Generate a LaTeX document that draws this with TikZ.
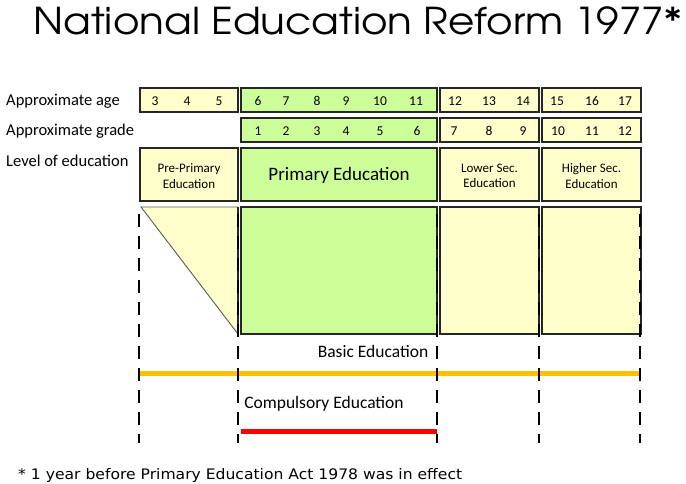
\documentclass[tikz,border=0pt]{standalone}
\usepackage{fontspec}
\setmainfont{Carlito}[Numbers=Lining]
\newfontfamily\titlefont{TeX Gyre Adventor}
\newfontfamily\notefont{DejaVu Sans}
\definecolor{paleyellow}{HTML}{FFFFCC}
\definecolor{palegreen}{HTML}{CCFF99}
\definecolor{boxline}{HTML}{262626}
\definecolor{basicbar}{HTML}{FFC000}
\definecolor{compbar}{HTML}{FF0000}
\begin{document}
\begin{tikzpicture}[x=1pt,y=-1pt,
  cell/.style={draw=boxline,line width=1.4pt,rectangle,inner sep=0pt,anchor=center},
  yel/.style={cell,fill=paleyellow},
  grn/.style={cell,fill=palegreen},
  num/.style={font=\fontsize{13.5}{13.5}\selectfont,inner sep=0pt,anchor=base},
  rowlabel/.style={font=\fontsize{16.5}{16.5}\selectfont,inner sep=0pt,anchor=base west},
  smalllevel/.style={font=\fontsize{13}{15.5}\selectfont,align=center,inner sep=0pt,anchor=center},
  spanlabel/.style={inner sep=0pt,anchor=center,font=\fontsize{17.5}{17.5}\selectfont},
  divider/.style={black,line width=2.4pt,dash pattern=on 13pt off 9pt},
  bar/.style={line width=5pt}]
\useasboundingbox (0,0) rectangle (686,484);

% title
\node[anchor=base west,inner sep=0pt,font=\titlefont\fontsize{37}{37}\selectfont] (title) at (33,35) {\scalebox{1.095}[1]{National Education Reform 1977*}};

% row captions
\node[rowlabel] (lage) at (6,106) {Approximate age};
\node[rowlabel] (lgrade) at (6,136) {Approximate grade};
\node[rowlabel] (llevel) at (6,167) {Level of education};

% age row
\node[yel,minimum width=98pt,minimum height=24pt] (agepre) at (189,100) {};
\node[grn,minimum width=196pt,minimum height=24pt] (agepri) at (339,100) {};
\node[yel,minimum width=99pt,minimum height=24pt] (agelow) at (489.5,100) {};
\node[yel,minimum width=99pt,minimum height=24pt] (agehi) at (591.5,100) {};

% grade row
\node[grn,minimum width=196pt,minimum height=24pt] (grpri) at (339,130) {};
\node[yel,minimum width=99pt,minimum height=24pt] (grlow) at (489.5,130) {};
\node[yel,minimum width=99pt,minimum height=24pt] (grhi) at (591.5,130) {};

% ages
\node[num] (a3) at (155,105.5) {3};
\node[num] (a4) at (187,105.5) {4};
\node[num] (a5) at (219,105.5) {5};
\node[num] (a6) at (258,105.5) {6};
\node[num] (a7) at (286,105.5) {7};
\node[num] (a8) at (317,105.5) {8};
\node[num] (a9) at (346,105.5) {9};
\node[num] (a10) at (380,105.5) {10};
\node[num] (a11) at (416,105.5) {11};
\node[num] (a12) at (455,105.5) {12};
\node[num] (a13) at (489,105.5) {13};
\node[num] (a14) at (523,105.5) {14};
\node[num] (a15) at (557,105.5) {15};
\node[num] (a16) at (592,105.5) {16};
\node[num] (a17) at (625,105.5) {17};

% grades
\node[num] (g1) at (258,135.5) {1};
\node[num] (g2) at (286,135.5) {2};
\node[num] (g3) at (317,135.5) {3};
\node[num] (g4) at (346,135.5) {4};
\node[num] (g5) at (380,135.5) {5};
\node[num] (g6) at (417,135.5) {6};
\node[num] (g7) at (454,135.5) {7};
\node[num] (g8) at (489,135.5) {8};
\node[num] (g9) at (523,135.5) {9};
\node[num] (g10) at (558,135.5) {10};
\node[num] (g11) at (592,135.5) {11};
\node[num] (g12) at (625,135.5) {12};

% level row
\node[yel,minimum width=98pt,minimum height=53pt] (lvpre) at (189,174.5) {};
\node[grn,minimum width=196pt,minimum height=53pt] (lvpri) at (339,174.5) {};
\node[yel,minimum width=99pt,minimum height=53pt] (lvlow) at (489.5,174.5) {};
\node[yel,minimum width=99pt,minimum height=53pt] (lvhi) at (591.5,174.5) {};
\node[smalllevel] (tpre) at (189,176) {Pre-Primary\\Education};
\node[inner sep=0pt,anchor=center,font=\fontsize{19}{19}\selectfont] (tpri) at (339,175) {Primary Education};
\node[smalllevel] (tlow) at (489.5,176) {Lower Sec.\\Education};
\node[smalllevel] (thi) at (591.5,176) {Higher Sec.\\Education};

% duration blocks
\coordinate (tria) at (141,207);
\coordinate (trib) at (238,207);
\coordinate (tric) at (238,334);
\fill[paleyellow] (tria) -- (trib) -- (tric) -- cycle;
\draw[gray!70!black,line width=0.9pt] (tric) -- (tria) -- (trib);
\draw[boxline,line width=1.4pt] (trib) -- (tric);
\node[grn,minimum width=196pt,minimum height=127pt] (bkpri) at (339,270.5) {};
\node[yel,minimum width=99pt,minimum height=127pt] (bklow) at (489.5,270.5) {};
\node[yel,minimum width=99pt,minimum height=127pt] (bkhi) at (591.5,270.5) {};

% spans
\node[spanlabel] (basic) at (373,351) {Basic Education};
\node[spanlabel] (comp) at (324,404) {Compulsory Education};

\coordinate (bas1) at (139,373);
\coordinate (bas2) at (640,373);
\coordinate (cmp1) at (241,431);
\coordinate (cmp2) at (437,431);
\draw[bar,basicbar] (bas1) -- (bas2);
\draw[bar,compbar] (cmp1) -- (cmp2);

% stage dividers
\foreach \n/\xx in {1/139,2/238,3/437,4/539,5/640}{
  \coordinate (dv\n t) at (\xx,214);
  \coordinate (dv\n b) at (\xx,443);
  \draw[divider] (dv\n t) -- (dv\n b);
}

% footnote
\node[anchor=base west,inner sep=0pt,font=\notefont\fontsize{14.5}{14.5}\selectfont] (note) at (18,479) {\scalebox{1.075}[1]{* 1 year before Primary Education Act 1978 was in effect}};
\end{tikzpicture}
\end{document}
